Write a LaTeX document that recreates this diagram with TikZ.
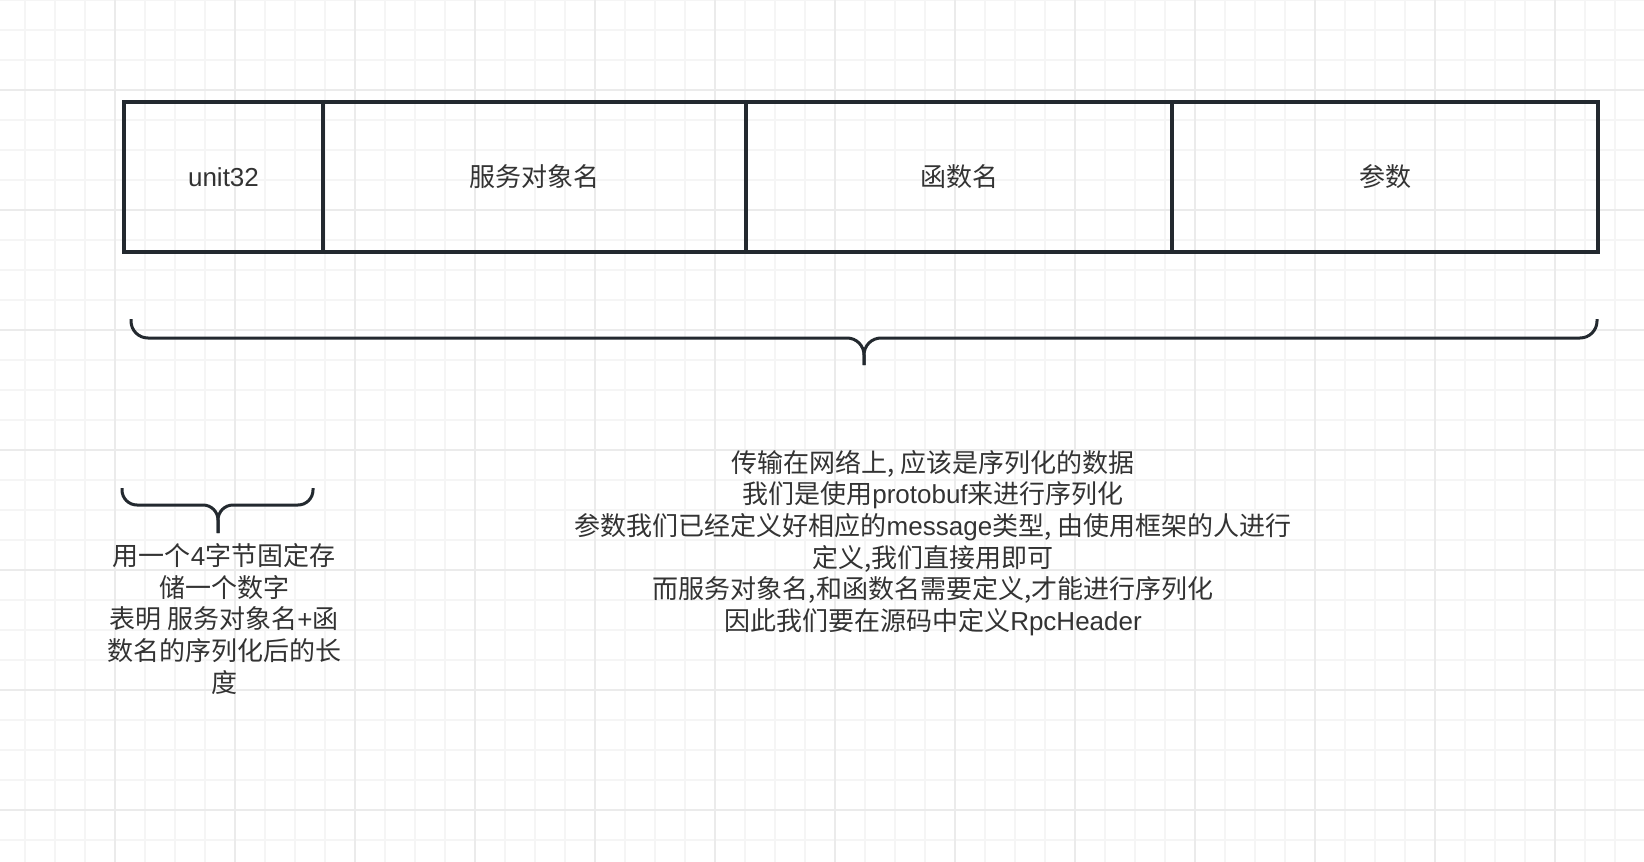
\documentclass[tikz,border=0pt]{standalone}
\usepackage{fontspec}
\setmainfont{Noto Sans CJK SC}
\newfontfamily\latin{Liberation Sans}
\newcommand{\en}[1]{{\latin #1}}
\usetikzlibrary{positioning}
\definecolor{inkline}{RGB}{35,41,47}
\definecolor{inktext}{RGB}{51,51,51}
\definecolor{gridminor}{RGB}{245,245,245}
\definecolor{gridmajor}{RGB}{235,235,235}

\begin{document}
\begin{tikzpicture}[x=0.5pt,y=-0.5pt,
	cell/.style={draw=inkline,line width=1.6pt,minimum height=75pt,inner sep=0pt,outer sep=0pt,text=inktext,font=\fontsize{13}{15.65}\selectfont},
	note/.style={align=center,text=inktext,font=\fontsize{13}{15.85}\selectfont},
	brace/.style={draw=inkline,line width=1.5pt,rounded corners=8.5pt}]
	\useasboundingbox (0,0) rectangle (1644,862);
	\fill[white] (0,0) rectangle (1644,862);
	% grid
	\foreach \x in {25,55,...,1644} \draw[gridminor,line width=0.85pt] (\x,0) -- (\x,862);
	\foreach \y in {0,30,...,862} \draw[gridminor,line width=0.85pt] (0,\y) -- (1644,\y);
	\foreach \x in {115,235,...,1644} \draw[gridmajor,line width=1pt] (\x,0) -- (\x,862);
	\foreach \y in {90,210,...,862} \draw[gridmajor,line width=1pt] (0,\y) -- (1644,\y);
	
	\node[cell,minimum width=99.5pt] (len) at (223.5,177) {\raisebox{-1pt}{\en{unit32}}};
	\node[cell,minimum width=211.5pt,right=0pt of len] (svc) {\raisebox{-1pt}{服务对象名}};
	\node[cell,minimum width=213pt,right=0pt of svc] (fn) {\raisebox{-1pt}{函数名}};
	\node[cell,minimum width=213pt,right=0pt of fn] (args) {\raisebox{-1pt}{参数}};
	
	% braces
	\draw[brace] (131,319) -- (131,338) -- (864,338) -- (864,365);
	\draw[brace] (1597,319) -- (1597,338) -- (864,338) -- (864,365);
	\draw[brace,rounded corners=7.5pt] (122,488) -- (122,505) -- (218,505) -- (218,533);
	\draw[brace,rounded corners=7.5pt] (313,488) -- (313,505) -- (218,505) -- (218,533);
	
	\node[note] (wire) at (933,543) {传输在网络上, 应该是序列化的数据\\
		我们是使用\en{protobuf}来进行序列化\\
		参数我们已经定义好相应的\en{message}类型, 由使用框架的人进行\\
		定义,我们直接用即可\\
		而服务对象名,和函数名需要定义,才能进行序列化\\
		因此我们要在源码中定义\en{RpcHeader}};
	\node[note] (lenote) at (224,619) {用一个\en{4}字节固定存\\
		储一个数字\\
		表明 服务对象名\en{+}函\\
		数名的序列化后的长\\
		度};
\end{tikzpicture}
\end{document}
